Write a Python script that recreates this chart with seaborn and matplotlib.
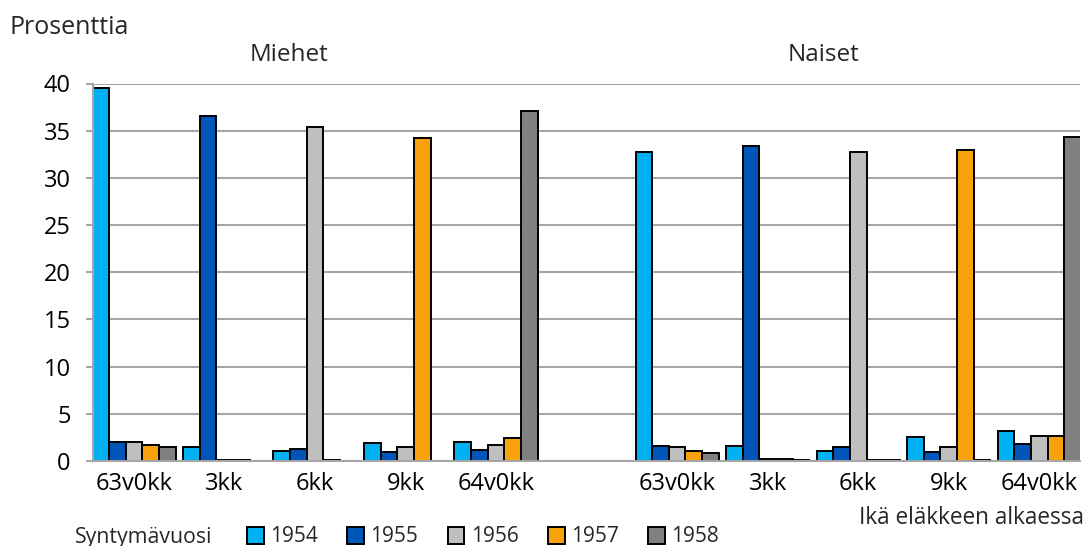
import matplotlib
matplotlib.use("Agg")
import matplotlib.pyplot as plt
import seaborn as sns
import pandas as pd

ikaryhmat = ["63v0kk", "3kk", "6kk", "9kk", "64v0kk"]
vuodet = ["1954", "1955", "1956", "1957", "1958"]
varit = ["#00B0F0", "#0055B8", "#BFBFBF", "#F9A10A", "#808080"]

# prosenttia; rivi = syntymävuosi, sarake = ikä eläkkeen alkaessa
miehet = [
    [39.5, 1.5, 1.05, 1.9, 2.0],    # 1954
    [2.0, 36.6, 1.3, 1.0, 1.2],     # 1955
    [2.0, 0.1, 35.4, 1.5, 1.7],     # 1956
    [1.65, 0.1, 0.1, 34.2, 2.4],    # 1957
    [1.5, 0.0, 0.0, 0.0, 37.1],     # 1958
]
naiset = [
    [32.7, 1.6, 1.05, 2.55, 3.15],  # 1954
    [1.6, 33.4, 1.45, 0.95, 1.75],  # 1955
    [1.5, 0.2, 32.7, 1.45, 2.65],   # 1956
    [1.1, 0.2, 0.08, 33.0, 2.65],   # 1957
    [0.8, 0.1, 0.08, 0.08, 34.3],   # 1958
]

rows = []
for sukupuoli, taulu in [("M", miehet), ("N", naiset)]:
    for i, vuosi in enumerate(vuodet):
        for j, ika in enumerate(ikaryhmat):
            rows.append({"ryhma": sukupuoli + "_" + ika, "vuosi": vuosi, "arvo": taulu[i][j]})
df = pd.DataFrame(rows)

order = ["M_" + k for k in ikaryhmat] + ["tyhja"] + ["N_" + k for k in ikaryhmat]

sns.set_theme(style="white")
plt.rcParams["font.family"] = ["Open Sans", "DejaVu Sans"]

fig = plt.figure(figsize=(10.86, 5.46), dpi=100)
ax = fig.add_axes([93 / 1086, 1 - 461 / 546, (1080 - 93) / 1086, (461 - 83.5) / 546])

sns.barplot(data=df, x="ryhma", y="arvo", hue="vuosi", order=order, hue_order=vuodet,
            palette=varit, saturation=1, width=0.92, edgecolor="black", linewidth=1.4,
            errorbar=None, ax=ax)

ax.set_ylim(0, 40)
ax.set_xlim(-0.453, 10.45)
ax.set_yticks(range(0, 41, 5))
ax.set_xticks(range(len(order)))
ax.set_xticklabels(ikaryhmat + [""] + ikaryhmat)
ax.set_xlabel("")
ax.set_ylabel("")

ax.yaxis.grid(True, color="#A6A6A6", linewidth=1.5)
ax.set_axisbelow(True)
for s in ["top", "right"]:
    ax.spines[s].set_visible(False)
for s in ["left", "bottom"]:
    ax.spines[s].set_color("#A6A6A6")
    ax.spines[s].set_linewidth(1.5)
ax.tick_params(axis="y", left=True, length=5, width=1.5, color="#A6A6A6",
               labelsize=17, pad=11, labelcolor="black")
ax.tick_params(axis="x", length=0, labelsize=17, pad=8, labelcolor="black")

handles, labels = ax.get_legend_handles_labels()
ax.get_legend().remove()
fig.legend(handles, labels, loc="center left", bbox_to_anchor=(247 / 1086, 1 - 537 / 546),
           ncol=5, frameon=False, handlelength=0.8, handleheight=0.9,
           handletextpad=0.3, columnspacing=1.42, fontsize=15, borderaxespad=0, borderpad=0)

fig.text(9 / 1086, 1 - 27 / 546, "Prosenttia", fontsize=18, va="center", ha="left")
fig.text(289 / 1086, 1 - 55 / 546, "Miehet", fontsize=17.5, va="center", ha="center")
fig.text(823 / 1086, 1 - 55 / 546, "Naiset", fontsize=17.5, va="center", ha="center")
fig.text(1084 / 1086, 1 - 518 / 546, "Ikä eläkkeen alkaessa", fontsize=16.3, va="center", ha="right")
fig.text(75 / 1086, 1 - 537 / 546, "Syntymävuosi", fontsize=15.3, va="center", ha="left")

fig.savefig("out.png", dpi=100)
